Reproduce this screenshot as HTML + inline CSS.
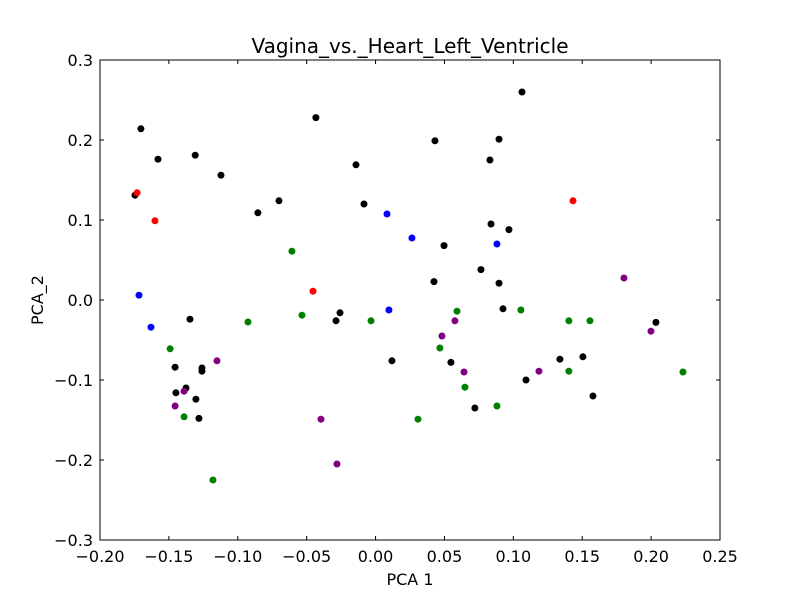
<!DOCTYPE html>
<html><head><meta charset="utf-8"><style>
body{margin:0;background:#fff;}
svg text{font-family:"DejaVu Sans","Liberation Sans",sans-serif;fill:#000;}
</style></head><body>
<svg id="chart" width="800" height="600" xmlns="http://www.w3.org/2000/svg">
<rect width="800" height="600" fill="#fff"/>
<g id="marks"></g>
<g id="axes"></g>
</svg>
<script>
const xTicks=[-0.20,-0.15,-0.10,-0.05,0.00,0.05,0.10,0.15,0.20,0.25];
const yTicks=[-0.3,-0.2,-0.1,0.0,0.1,0.2,0.3];
const blackX=[-0.1746,-0.1703,-0.1579,-0.1309,-0.1122,-0.0854,-0.0701,-0.0433,-0.0142,-0.0084,0.0431,0.0497,0.1063,0.0896,0.0830,0.0838,0.0968,0.0765,0.0424,0.0896,0.0925,-0.0287,-0.0258,0.0119,0.0547,0.0721,0.1092,0.1338,0.1505,0.1578,0.2035,-0.1347,-0.1455,-0.1449,-0.1376,-0.1304,-0.1260,-0.1260,-0.1282];
const blackY=[0.131,0.214,0.176,0.181,0.156,0.109,0.124,0.228,0.169,0.120,0.199,0.068,0.260,0.201,0.175,0.095,0.088,0.038,0.023,0.021,-0.011,-0.026,-0.016,-0.076,-0.078,-0.135,-0.100,-0.074,-0.071,-0.120,-0.028,-0.024,-0.084,-0.116,-0.110,-0.124,-0.085,-0.089,-0.148];
const blueX=[0.0083,0.0264,0.0881,-0.1717,-0.1630,0.0097];
const blueY=[0.1075,0.0775,0.070,0.006,-0.034,-0.0125];
const redX=[-0.1731,-0.1601,-0.0454,0.1433];
const redY=[0.134,0.099,0.011,0.124];
const greenX=[-0.0607,-0.0926,-0.0534,-0.0033,-0.1491,-0.1390,-0.1180,0.0308,0.0467,0.0591,0.0649,0.0881,0.1055,0.1403,0.1403,0.1556,0.2231];
const greenY=[0.061,-0.0275,-0.019,-0.026,-0.061,-0.146,-0.225,-0.149,-0.060,-0.014,-0.109,-0.1325,-0.0125,-0.026,-0.089,-0.026,-0.090];
const purpleX=[-0.1151,-0.1390,-0.1455,-0.0396,-0.0280,0.0482,0.0576,0.0642,0.1186,0.1803,0.1999];
const purpleY=[-0.076,-0.114,-0.1325,-0.149,-0.205,-0.045,-0.026,-0.090,-0.089,0.0275,-0.039];

const L=100,R=720,T=60,B=540;
const xMin=-0.2,xMax=0.25,yMin=-0.3,yMax=0.3;
function sx(v){return L+(v-xMin)/(xMax-xMin)*(R-L);}
function sy(v){return B-(v-yMin)/(yMax-yMin)*(B-T);}
const NS="http://www.w3.org/2000/svg";
function mk(tag,attrs,parent){const e=document.createElementNS(NS,tag);for(const k in attrs)e.setAttribute(k,attrs[k]);parent.appendChild(e);return e;}
const marks=document.getElementById('marks');
const series=[["black",blackX,blackY,"#000000"],["blue",blueX,blueY,"#0000ff"],["red",redX,redY,"#ff0000"],["green",greenX,greenY,"#008000"],["purple",purpleX,purpleY,"#800080"]];
series.forEach(s=>{
  for(let i=0;i<s[1].length;i++){
    const c=mk('circle',{cx:sx(s[1][i]),cy:sy(s[2][i]),r:3.5,fill:s[3]},marks);
    
    
  }
});
const ax=document.getElementById('axes');
const frame=mk('rect',{x:L,y:T,width:R-L,height:B-T,fill:'none',stroke:'#000','stroke-width':1},ax);


xTicks.forEach(v=>{
  const x=sx(v);
  mk('line',{x1:x,x2:x,y1:B,y2:B-4,stroke:'#000'},ax);
  mk('line',{x1:x,x2:x,y1:T,y2:T+4,stroke:'#000'},ax);
  const t=mk('text',{x:x,y:B+22,'text-anchor':'middle','font-size':16},ax);
  t.textContent=v.toFixed(2).replace('-','−');
  
  
});
yTicks.forEach(v=>{
  const y=sy(v);
  mk('line',{x1:L,x2:L+4,y1:y,y2:y,stroke:'#000'},ax);
  mk('line',{x1:R,x2:R-4,y1:y,y2:y,stroke:'#000'},ax);
  const t=mk('text',{x:L-7,y:y+6,'text-anchor':'end','font-size':16},ax);
  t.textContent=v.toFixed(1).replace('-','−');
  
  
});
const title=mk('text',{x:410,y:53,'text-anchor':'middle','font-size':20},ax);
title.textContent='Vagina_vs._Heart_Left_Ventricle';


const xl=mk('text',{x:410,y:585,'text-anchor':'middle','font-size':16},ax);
xl.textContent='PCA 1';


const yl=mk('text',{x:43,y:300,'text-anchor':'middle','font-size':16,transform:'rotate(-90 43 300)'},ax);
yl.textContent='PCA_2';


</script>
</body></html>
